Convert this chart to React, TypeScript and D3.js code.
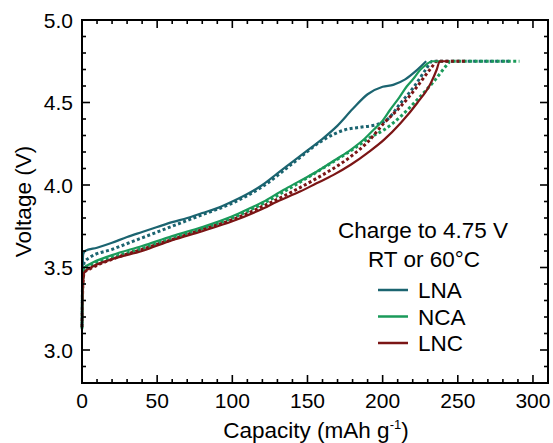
import React from "react";
import * as d3 from "d3";

type P = [number, number];

const xTicks = [0, 50, 100, 150, 200, 250, 300];
const yTicks = [3.0, 3.5, 4.0, 4.5, 5.0];

const lnaRT: P[] = [[0,3.13],[0.3,3.4],[0.8,3.58],[2,3.6],[10,3.62],[20,3.65],[30,3.685],[40,3.715],[50,3.745],[60,3.775],[70,3.80],[80,3.83],[90,3.86],[100,3.90],[110,3.945],[120,4.00],[130,4.07],[140,4.14],[150,4.21],[160,4.28],[170,4.36],[180,4.46],[190,4.55],[200,4.595],[207,4.607],[215,4.64],[222,4.69],[229,4.75]];
const lna60: P[] = [[0,3.15],[0.5,3.45],[1.5,3.53],[5,3.56],[20,3.61],[40,3.68],[60,3.75],[80,3.82],[100,3.89],[120,3.99],[140,4.13],[160,4.27],[168,4.31],[175,4.335],[185,4.35],[196,4.366],[203,4.396],[212,4.497],[221,4.597],[228.7,4.70],[233,4.75],[285,4.75]];
const ncaRT: P[] = [[0,3.12],[0.5,3.42],[1.5,3.5],[5,3.52],[20,3.575],[40,3.63],[60,3.69],[80,3.745],[100,3.81],[112,3.86],[120,3.895],[134,3.97],[145,4.025],[156,4.08],[168,4.15],[179,4.215],[188,4.28],[194,4.335],[200,4.39],[205,4.456],[211,4.53],[216,4.597],[221,4.65],[225,4.698],[229,4.73],[233,4.75],[240,4.75]];
const nca60: P[] = [[0,3.13],[0.5,3.4],[1.5,3.48],[5,3.505],[20,3.56],[40,3.615],[60,3.675],[80,3.735],[100,3.80],[120,3.885],[140,3.99],[160,4.10],[180,4.215],[192,4.29],[201,4.335],[212,4.416],[223,4.517],[234,4.627],[243,4.73],[245,4.75],[291,4.75]];
const lncRT: P[] = [[0,3.14],[0.5,3.38],[1.5,3.47],[5,3.495],[20,3.55],[40,3.60],[60,3.665],[80,3.72],[100,3.78],[118.7,3.85],[130,3.90],[145,3.96],[156,4.01],[167,4.06],[179,4.124],[190,4.195],[201,4.275],[212,4.376],[223,4.497],[232,4.617],[236,4.70],[238,4.75],[244,4.75]];
const lnc60: P[] = [[0,3.14],[0.5,3.38],[1.5,3.47],[5,3.49],[20,3.55],[40,3.61],[60,3.67],[80,3.73],[100,3.79],[120,3.87],[140,3.96],[156,4.04],[179,4.174],[190,4.26],[201,4.376],[212,4.476],[223,4.597],[233,4.718],[236,4.75],[255,4.75]];

const colors = { LNA: "#1b6470", NCA: "#1a9a5a", LNC: "#7b1515" };
const legendNames = ["LNA", "NCA", "LNC"] as const;

export default function App() {
  const W = 553, H = 443;
  const L = 82, R = 548, T = 20, B = 383;
  const x = d3.scaleLinear().domain([0, 310]).range([L, R]);
  const y = d3.scaleLinear().domain([2.8, 5.0]).range([B, T]);
  const line = d3.line<P>().x(d => x(d[0])).y(d => y(d[1])).curve(d3.curveMonotoneX);
  const font = "Liberation Sans, Arial, sans-serif";

  const xMinor = d3.range(0, 311, 10);
  const yMinor = d3.range(28, 51, 1).map(v => v / 10);

  const series = [
    { d: lna60, c: colors.LNA, dash: true },
    { d: nca60, c: colors.NCA, dash: true },
    { d: lnc60, c: colors.LNC, dash: true },
    { d: lnaRT, c: colors.LNA, dash: false },
    { d: ncaRT, c: colors.NCA, dash: false },
    { d: lncRT, c: colors.LNC, dash: false },
  ];

  return (
    <svg width={W} height={H} style={{ position: "absolute", left: 0, top: 0 }} fontFamily={font}>
      <rect width={W} height={H} fill="#fff" />
      <g>
        {series.map((s, i) => (
          <path key={i} d={line(s.d) || ""} fill="none" stroke={s.c}
            strokeWidth={s.dash ? 3 : 2.2}
            strokeDasharray={s.dash ? "3,2.5" : undefined} />
        ))}
      </g>
      <g stroke="#000" strokeWidth={1.6}>
        {xMinor.map(v => {
          const major = v % 50 === 0;
          const len = major ? 8 : 4;
          return (
            <g key={"x" + v}>
              <line x1={x(v)} x2={x(v)} y1={B} y2={B - len} />
              <line x1={x(v)} x2={x(v)} y1={T} y2={T + len} />
            </g>
          );
        })}
        {yMinor.map(v => {
          const major = Math.round(v * 10) % 5 === 0;
          const len = major ? 8 : 4;
          return (
            <g key={"y" + v}>
              <line x1={L} x2={L + len} y1={y(v)} y2={y(v)} />
              <line x1={R} x2={R - len} y1={y(v)} y2={y(v)} />
            </g>
          );
        })}
      </g>
      <rect x={L} y={T} width={R - L} height={B - T} fill="none" stroke="#000" strokeWidth={2} />
      {xTicks.map(v => (
        <text key={"xl" + v} x={x(v)} y={B + 25} fontSize={21} textAnchor="middle" fill="#000">{v}</text>
      ))}
      {yTicks.map(v => (
        <text key={"yl" + v} x={L - 9} y={y(v) + 7.5} fontSize={21} textAnchor="end" fill="#000">{v.toFixed(1)}</text>
      ))}
      <text x={316} y={438} fontSize={22.5} textAnchor="middle" fill="#000">
        Capacity (mAh g<tspan fontSize={13} dy={-9}>-1</tspan><tspan dy={9}>)</tspan>
      </text>
      <text transform={`translate(31,${(T + B) / 2}) rotate(-90)`} fontSize={22.5} textAnchor="middle" fill="#000">Voltage (V)</text>
      <text x={423} y={238} fontSize={22.5} textAnchor="middle" fill="#000">Charge to 4.75 V</text>
      <text x={424} y={267} fontSize={22.5} textAnchor="middle" fill="#000">RT or 60°C</text>
      {legendNames.map((n, i) => {
        const cy = 290 + i * 26.5;
        return (
          <g key={n}>
            <line x1={378} x2={408} y1={cy} y2={cy} stroke={colors[n]} strokeWidth={2.5} />
            <text x={418} y={cy + 8} fontSize={22.5} fill="#000">{n}</text>
          </g>
        );
      })}
    </svg>
  );
}
